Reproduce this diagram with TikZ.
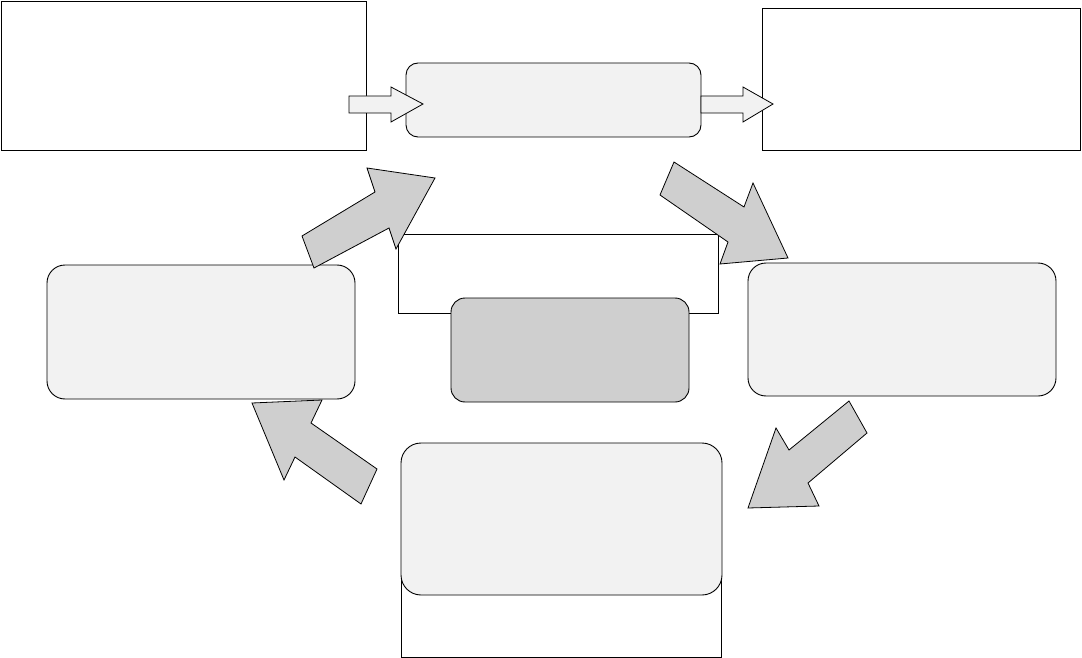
\documentclass[tikz,border=0pt]{standalone}
\usepackage{tikz}
\definecolor{paleg}{RGB}{242,242,242}
\definecolor{midg}{RGB}{207,207,207}

\begin{document}
\begin{tikzpicture}[x=1pt,y=-1pt,
	plainbox/.style={draw,fill=white,line width=0.9pt,inner sep=0pt,outer sep=0pt},
	roundbox/.style={draw,fill=paleg,line width=0.9pt,rounded corners=16pt,inner sep=0pt,outer sep=0pt},
	bigarrow/.style={draw,fill=midg,line width=0.8pt,line join=miter},
	smallarrow/.style={draw,fill=paleg,line width=0.8pt}]
			\useasboundingbox (0,0) rectangle (1082,658);
			
			% top row
			\node[plainbox,minimum width=365pt,minimum height=149pt] (input) at (183.5,75.5) {};
			\node[plainbox,minimum width=318pt,minimum height=142pt] (output) at (921,79) {};
			\node[roundbox,rounded corners=12pt,minimum width=295pt,minimum height=74pt] (process) at (553.5,100) {};
			
			% centre
			\node[plainbox,minimum width=320pt,minimum height=79pt] (frame) at (558,273.5) {};
			\node[roundbox,fill=midg,rounded corners=14pt,minimum width=238pt,minimum height=104pt] (core) at (570,350) {};
			
			% sides
			\node[roundbox,rounded corners=18pt,minimum width=308pt,minimum height=134pt] (left) at (201,332) {};
			\node[roundbox,rounded corners=18pt,minimum width=308pt,minimum height=133pt] (right) at (902,329.5) {};
			
			% bottom
			\node[plainbox,minimum width=320pt,minimum height=82pt] (base) at (561,616) {};
			\node[roundbox,rounded corners=20pt,minimum width=321pt,minimum height=152pt] (bottom) at (561.5,519) {};
			
			% small arrows
			\draw[smallarrow] (349,96)--(391,96)--(391,87)--(423,104)--(391,122)--(391,113)--(349,113)--cycle;
			\draw[smallarrow] (701,96)--(743,96)--(743,87)--(773,104)--(743,122)--(743,113)--(701,113)--cycle;
			
			% cycle arrows
			\draw[bigarrow] (302,236)--(314,268)--(389,228)--(396,249)--(435,178)--(367,168)--(375,192)--cycle;
			\draw[bigarrow] (674,162)--(660,195)--(728,242)--(720,264)--(788,258)--(753,183)--(744,207)--cycle;
			\draw[bigarrow] (849,401)--(867,433)--(808,483)--(819,506)--(748,508)--(776,428)--(789,450)--cycle;
			\draw[bigarrow] (377,469)--(361,504)--(295,457)--(284,480)--(252,403)--(322,400)--(311,423)--cycle;
		\end{tikzpicture}
\end{document}
